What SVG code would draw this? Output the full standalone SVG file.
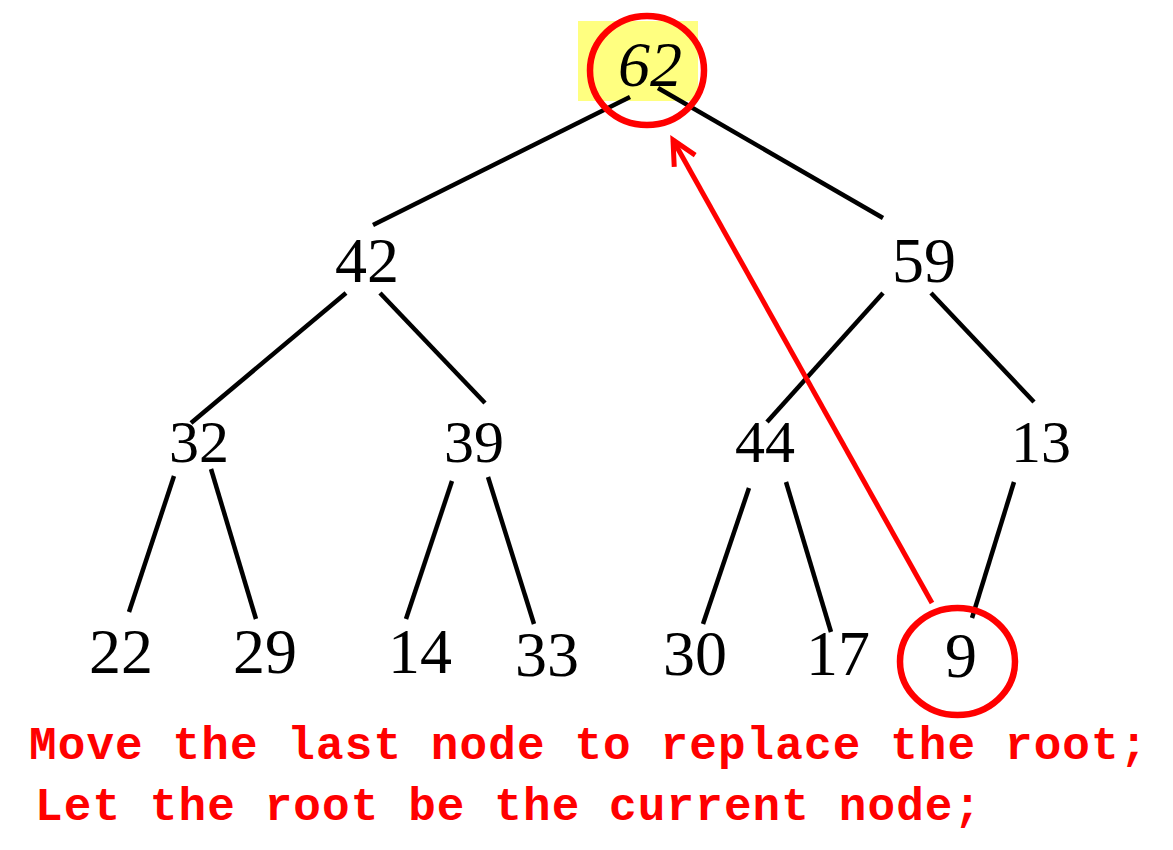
<svg xmlns="http://www.w3.org/2000/svg" width="1173" height="850" viewBox="0 0 1173 850">
<style>
.n{font-family:"Liberation Serif","Times New Roman",serif;fill:#000;text-anchor:middle}
.l1{font-size:64px}
.l2{font-size:60px}
.e{stroke:#000;stroke-width:4.5;fill:none}
.hl{fill:none;stroke:#FF0000;stroke-width:6.5}
.cap{font-family:"Liberation Mono","Courier New",monospace;font-weight:bold;font-size:46px;letter-spacing:1.1px;fill:#FF0000}
</style>
<defs>
<marker id="ah" markerUnits="userSpaceOnUse" markerWidth="40" markerHeight="40" viewBox="-30 -20 40 40" refX="0" refY="0" orient="auto">
<path d="M-24,-12 L0,0 L-24,12" fill="none" stroke="#FF0000" stroke-width="5" stroke-linejoin="miter"/>
</marker>
</defs>
<rect x="0" y="0" width="1173" height="850" fill="#fff"/>
<rect x="578" y="21" width="120" height="80" fill="#FFFF80"/>
<g id="connectors">
<line class="e" x1="630" y1="97" x2="373" y2="225"/>
<line class="e" x1="658" y1="88" x2="883" y2="218"/>
<line class="e" x1="346" y1="293" x2="191" y2="423"/>
<line class="e" x1="380" y1="293" x2="485" y2="403"/>
<line class="e" x1="883" y1="293" x2="767" y2="422"/>
<line class="e" x1="931" y1="293" x2="1034" y2="402"/>
<line class="e" x1="174" y1="476" x2="129" y2="612"/>
<line class="e" x1="211" y1="469" x2="256" y2="619"/>
<line class="e" x1="452" y1="481" x2="406" y2="619"/>
<line class="e" x1="488" y1="477" x2="534" y2="624"/>
<line class="e" x1="749" y1="488" x2="703" y2="624"/>
<line class="e" x1="786" y1="482" x2="831" y2="632"/>
<line class="e" x1="1014" y1="482" x2="972" y2="618"/>
</g>
<g id="n62"><text class="n l1" x="650" y="86" font-style="italic">62</text></g>
<g id="n42"><text class="n l1" x="367" y="282">42</text></g>
<g id="n59"><text class="n l1" x="924" y="282">59</text></g>
<g id="n32"><text class="n l2" x="199" y="462">32</text></g>
<g id="n39"><text class="n l2" x="474" y="462">39</text></g>
<g id="n44"><text class="n l2" x="765" y="462">44</text></g>
<g id="n13"><text class="n l2" x="1041" y="462">13</text></g>
<g id="n22"><text class="n l1" x="121" y="673">22</text></g>
<g id="n29"><text class="n l1" x="265" y="673">29</text></g>
<g id="n14"><text class="n l1" x="420" y="673">14</text></g>
<g id="n33"><text class="n l1" x="547" y="676">33</text></g>
<g id="n30"><text class="n l1" x="695" y="675">30</text></g>
<g id="n17"><text class="n l1" x="838" y="675">17</text></g>
<g id="n9"><text class="n l1" x="961" y="677">9</text></g>
<ellipse class="hl" cx="647" cy="70.5" rx="57" ry="54.5"/>
<ellipse class="hl" cx="957.5" cy="661.5" rx="57.5" ry="53.5"/>
<g id="move-arrow">
<line x1="932" y1="603" x2="673" y2="140" stroke="#FF0000" stroke-width="5" marker-end="url(#ah)"/>
</g>
<text class="cap" x="29" y="759">Move the last node to replace the root;</text>
<text class="cap" x="35" y="820">Let the root be the current node;</text>
</svg>
